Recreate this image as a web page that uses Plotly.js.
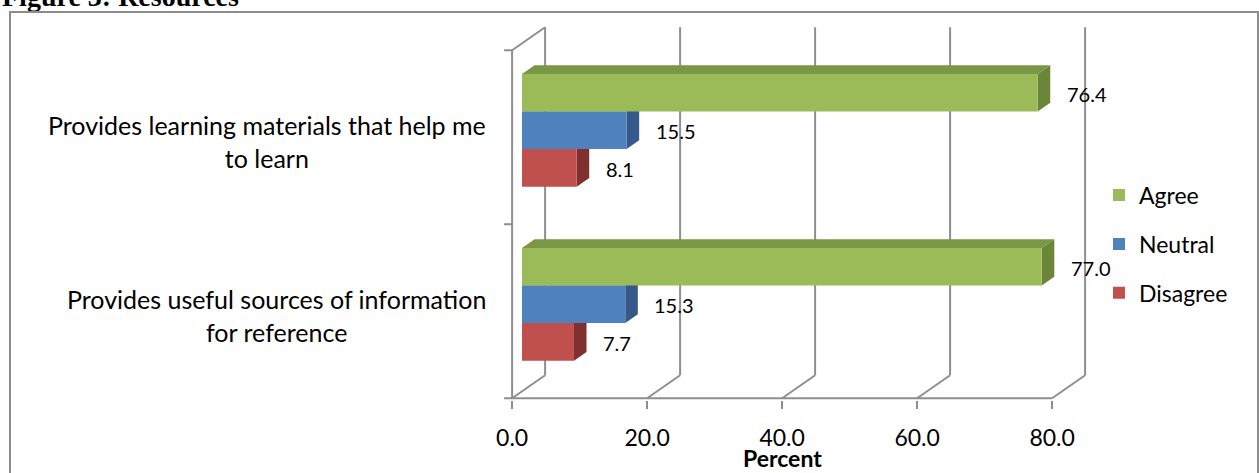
<!DOCTYPE html>
<html>
<head>
<meta charset="utf-8">
<script src="https://cdn.plot.ly/plotly-3.0.1.min.js"></script>
<style>
  html, body { margin: 0; padding: 0; background: #ffffff; overflow: hidden; }
  #chart { width: 1259px; height: 473px; }
  #frame { position: absolute; left: 9px; top: 11px; width: 1250px; height: 480px;
           border: 2px solid #8c8c8c; pointer-events: none; box-sizing: border-box; }
</style>
</head>
<body>
<div id="chart"></div>
<div id="frame"></div>
<script>
// ---- data ----
const categories = ["Provides learning materials that help me to learn",
                    "Provides useful sources of information for reference"];
const catLabels  = ["Provides learning materials that help me<br>to learn",
                    "Provides useful sources of information<br>for reference"];
const agree    = [76.4, 77.0];
const neutral  = [15.5, 15.3];
const disagree = [8.1, 7.7];
const seriesNames = ["Agree", "Neutral", "Disagree"];   // legend order, top -> bottom
const xTickVals = [0, 20, 40, 60, 80];
const xTickText = ["0.0", "20.0", "40.0", "60.0", "80.0"];
const chartTitle = "Figure 3: Resources";
const axisTitle = "Percent";

// ---- styling / 3-D geometry ----
const FONT = "Lato, 'Liberation Sans', sans-serif";
const GRID = "#8e8e8e";
const front = { Agree: "#9BBB59", Neutral: "#4F81BD", Disagree: "#C0504D" };
const side  = { Agree: "#6B8539", Neutral: "#34598A", Disagree: "#80312F" };
const top_  = { Agree: "#7A9647", Neutral: "#3F6AA0", Disagree: "#9B3D3B" };

const T0 = 0.30, T1 = 0.68;     // bar front / back depth fraction
const DX = 4.889, DY = 0.1322;  // full depth of the box in axis units
const BARGAP = 0.353;
const X_RANGE = [-8.593, 85.630];      // bar plane
const Y_RANGE = [-0.5497, 1.6629];
const X2_RANGE = [X_RANGE[0] + T0 * DX, X_RANGE[1] + T0 * DX]; // front plane

const catOrder = categories.slice().reverse();   // bottom -> top
const idx = c => catOrder.indexOf(c);
const P = (v, c, t) => [v + (t - T0) * DX, c + (t - T0) * DY];

const shapes = [];
function seg(a, b) {
  shapes.push({ type: "line", xref: "x", yref: "y", layer: "below",
    x0: a[0], y0: a[1], x1: b[0], y1: b[1], line: { color: GRID, width: 2 } });
}
function poly(pts, color) {
  const d = pts.map((p, i) => (i ? "L" : "M") + p[0] + "," + p[1]).join(" ") + " Z";
  shapes.push({ type: "path", xref: "x", yref: "y", layer: "below", path: d,
    fillcolor: color, line: { width: 0 } });
}

const cLo = -0.5, cHi = catOrder.length - 0.5;
const vMax = xTickVals[xTickVals.length - 1];
// floor front edge
seg(P(0, cLo, 0), P(vMax, cLo, 0));
// floor diagonals + back wall gridlines
xTickVals.forEach(v => { seg(P(v, cLo, 0), P(v, cLo, 1)); seg(P(v, cLo, 1), P(v, cHi, 1)); });
// left wall
seg(P(0, cLo, 0), P(0, cHi, 0));
seg(P(0, cHi, 0), P(0, cHi, 1));
// y ticks
for (let c = cLo; c <= cHi + 1e-9; c += 1) {
  const p = P(0, c, 0);
  shapes.push({ type: "line", xref: "x", yref: "y", layer: "below", xsizemode: "pixel",
    xanchor: p[0], x0: -8, x1: 0, y0: p[1], y1: p[1], line: { color: GRID, width: 2 } });
}

// bars: bottom -> top within group is Disagree, Neutral, Agree
const order = [["Disagree", disagree], ["Neutral", neutral], ["Agree", agree]];
const W = 1 - BARGAP, bw = W / order.length;
const dX = (T1 - T0) * DX, dY = (T1 - T0) * DY;
const annotations = [];
order.forEach(([name, vals], i) => {
  categories.forEach((cat, k) => {
    const v = vals[k];
    const lo = idx(cat) - W / 2 + i * bw, hi = lo + bw;
    poly([[0, hi], [v, hi], [v + dX, hi + dY], [dX, hi + dY]], top_[name]);
    poly([[v, lo], [v, hi], [v + dX, hi + dY], [v + dX, lo + dY]], side[name]);
    annotations.push({ xref: "x", yref: "y", x: v, y: (lo + hi) / 2, xanchor: "left",
      yanchor: "middle", xshift: 27, yshift: -1, showarrow: false, text: v.toFixed(1),
      font: { family: FONT, size: 20, color: "#000" } });
  });
});

const traces = order.map(([name, vals]) => ({
  type: "bar", orientation: "h", name: name, legendgroup: name,
  legendrank: seriesNames.indexOf(name) + 1,
  y: categories, x: vals, marker: { color: front[name], line: { width: 0 } },
  hoverinfo: "x+name"
}));

// category labels
categories.forEach((cat, k) => {
  annotations.push({ xref: "paper", yref: "y", x: 0.0377, xanchor: "right",
    y: P(0, idx(cat), 0)[1], yanchor: "middle", yshift: -4, showarrow: false, align: "center",
    text: catLabels[k], font: { family: FONT, size: 25, color: "#000" } });
});
// axis title
annotations.push({ xref: "x2", yref: "paper", x: (xTickVals[0] + vMax) / 2, y: -0.151,
  xanchor: "center", yanchor: "middle", showarrow: false, text: "<b>" + axisTitle + "</b>",
  font: { family: FONT, size: 23, color: "#000" } });
// figure title (partly cut at top as in the reference)
annotations.push({ xref: "paper", yref: "paper", x: -0.7296, y: 1.0468, xanchor: "left",
  yanchor: "middle", showarrow: false, text: "<b>" + chartTitle + "</b>",
  font: { family: "'Liberation Serif', 'Times New Roman', serif", size: 28, color: "#000" } });

const layout = {
  width: 1259, height: 473,
  margin: { l: 464, r: 159, t: 15, b: 73 },
  paper_bgcolor: "#ffffff", plot_bgcolor: "rgba(0,0,0,0)",
  barmode: "group", bargap: BARGAP, bargroupgap: 0,
  xaxis: { range: X_RANGE, visible: false, fixedrange: true },
  xaxis2: { overlaying: "x", anchor: "y", side: "bottom", range: X2_RANGE,
    tickmode: "array", tickvals: xTickVals, ticktext: xTickText,
    ticks: "outside", ticklen: 8, tickwidth: 2, tickcolor: GRID, ticklabelstandoff: 9,
    showgrid: false, zeroline: false, showline: false,
    tickfont: { family: FONT, size: 23, color: "#000" } },
  yaxis: { type: "category", categoryorder: "array", categoryarray: catOrder,
    range: Y_RANGE, showgrid: false, zeroline: false, showline: false,
    showticklabels: false, ticks: "", fixedrange: true },
  showlegend: true,
  legend: { x: 0.9984, xanchor: "left", y: 0.405, yanchor: "middle",
    traceorder: "grouped", tracegroupgap: 16, itemwidth: 30,
    bgcolor: "rgba(0,0,0,0)", font: { family: FONT, size: 23, color: "#000" } },
  shapes: shapes, annotations: annotations
};

Plotly.newPlot("chart", traces, layout, { displayModeBar: false, staticPlot: true });
</script>
</body>
</html>
